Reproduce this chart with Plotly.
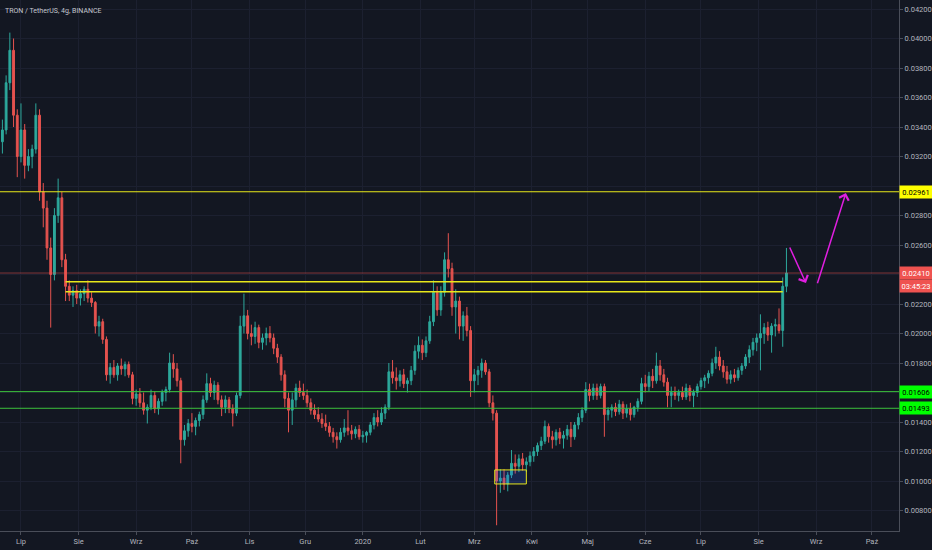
import pandas as pd
import plotly.graph_objects as go

# ---- data: 2-day candles (TRX/USDT) ----
start_date = "2019-06-21"
n_candles = 212

opens = [
    0.0330, 0.0338, 0.0370, 0.0392, 0.0348, 0.0320, 0.0338, 0.0314, 0.0320, 0.0325,
    0.0348, 0.0296, 0.0285, 0.0258, 0.0240, 0.0280, 0.0292, 0.0250, 0.0232, 0.0226,
    0.0229, 0.0224, 0.0227, 0.0230, 0.0224, 0.0221, 0.0205, 0.0208, 0.0196, 0.0172,
    0.0177, 0.0172, 0.0178, 0.0176, 0.0179, 0.0172, 0.0156, 0.0159, 0.0153, 0.0148,
    0.0150, 0.0158, 0.0149, 0.0154, 0.0160, 0.0162, 0.0180, 0.0176, 0.0168, 0.0128,
    0.0134, 0.0139, 0.0137, 0.0141, 0.0145, 0.0155, 0.0166, 0.0160, 0.0165, 0.0155,
    0.0150, 0.0155, 0.0149, 0.0146, 0.0158, 0.0205, 0.0212, 0.0200, 0.0198, 0.0204,
    0.0194, 0.0197, 0.0200, 0.0197, 0.0190, 0.0184, 0.0172, 0.0156, 0.0148, 0.0155,
    0.0163, 0.0160, 0.0158, 0.0153, 0.0148, 0.0145, 0.0142, 0.0139, 0.0137, 0.0133,
    0.0130, 0.0128, 0.0133, 0.0136, 0.0134, 0.0132, 0.0135, 0.0130, 0.0131, 0.0133,
    0.0138, 0.0143, 0.0140, 0.0146, 0.0150, 0.0174, 0.0170, 0.0168, 0.0172, 0.0166,
    0.0168, 0.0175, 0.0188, 0.0192, 0.0187, 0.0195, 0.0208, 0.0228, 0.0216, 0.0228,
    0.0250, 0.0244, 0.0218, 0.0222, 0.0205, 0.0212, 0.0202, 0.0168, 0.0172, 0.0175,
    0.0180, 0.0174, 0.0153, 0.0146, 0.0100, 0.0102, 0.0098, 0.0104, 0.0112, 0.0110,
    0.0115, 0.0111, 0.0113, 0.0117, 0.0120, 0.0124, 0.0127, 0.0137, 0.0130, 0.0128,
    0.0133, 0.0129, 0.0131, 0.0135, 0.0130, 0.0138, 0.0143, 0.0148, 0.0162, 0.0158,
    0.0163, 0.0158, 0.0164, 0.0145, 0.0148, 0.0150, 0.0147, 0.0152, 0.0146, 0.0149,
    0.0145, 0.0150, 0.0154, 0.0166, 0.0164, 0.0171, 0.0168, 0.0178, 0.0172, 0.0167,
    0.0158, 0.0160, 0.0158, 0.0160, 0.0157, 0.0163, 0.0158, 0.0160, 0.0164, 0.0168,
    0.0170, 0.0173, 0.0180, 0.0184, 0.0178, 0.0174, 0.0169, 0.0172, 0.0170, 0.0175,
    0.0178, 0.0184, 0.0189, 0.0194, 0.0197, 0.0200, 0.0204, 0.0199, 0.0205, 0.0206,
    0.0202, 0.0232,
]
highs = [
    0.0345, 0.0375, 0.0404, 0.0400, 0.0352, 0.0356, 0.0342, 0.0325, 0.0328, 0.0356,
    0.0352, 0.0302, 0.0290, 0.0265, 0.0285, 0.0305, 0.0296, 0.0254, 0.0236, 0.0232,
    0.0233, 0.0230, 0.0232, 0.0236, 0.0228, 0.0222, 0.0212, 0.0210, 0.0198, 0.0180,
    0.0182, 0.0180, 0.0183, 0.0181, 0.0181, 0.0174, 0.0162, 0.0163, 0.0160, 0.0152,
    0.0162, 0.0161, 0.0156, 0.0162, 0.0164, 0.0187, 0.0186, 0.0180, 0.0170, 0.0138,
    0.0142, 0.0146, 0.0143, 0.0147, 0.0158, 0.0173, 0.0170, 0.0168, 0.0167, 0.0158,
    0.0158, 0.0157, 0.0152, 0.0160, 0.0212, 0.0227, 0.0216, 0.0206, 0.0208, 0.0206,
    0.0200, 0.0204, 0.0205, 0.0200, 0.0193, 0.0186, 0.0175, 0.0160, 0.0160, 0.0166,
    0.0168, 0.0166, 0.0162, 0.0156, 0.0152, 0.0150, 0.0146, 0.0145, 0.0140, 0.0136,
    0.0133, 0.0136, 0.0142, 0.0148, 0.0138, 0.0137, 0.0138, 0.0134, 0.0134, 0.0140,
    0.0146, 0.0148, 0.0150, 0.0152, 0.0180, 0.0182, 0.0177, 0.0175, 0.0176, 0.0170,
    0.0178, 0.0192, 0.0198, 0.0196, 0.0198, 0.0212, 0.0236, 0.0232, 0.0232, 0.0255,
    0.0268, 0.0248, 0.0230, 0.0225, 0.0215, 0.0218, 0.0205, 0.0176, 0.0178, 0.0183,
    0.0182, 0.0176, 0.0158, 0.0148, 0.0108, 0.0108, 0.0106, 0.0121, 0.0118, 0.0118,
    0.0119, 0.0116, 0.0120, 0.0123, 0.0126, 0.0130, 0.0141, 0.0139, 0.0134, 0.0135,
    0.0136, 0.0134, 0.0138, 0.0140, 0.0140, 0.0146, 0.0150, 0.0167, 0.0166, 0.0166,
    0.0166, 0.0166, 0.0166, 0.0150, 0.0152, 0.0153, 0.0155, 0.0154, 0.0152, 0.0153,
    0.0151, 0.0156, 0.0170, 0.0172, 0.0174, 0.0176, 0.0187, 0.0182, 0.0176, 0.0170,
    0.0164, 0.0164, 0.0162, 0.0164, 0.0166, 0.0165, 0.0162, 0.0166, 0.0170, 0.0172,
    0.0175, 0.0183, 0.0191, 0.0188, 0.0182, 0.0178, 0.0175, 0.0176, 0.0177, 0.0180,
    0.0186, 0.0192, 0.0197, 0.0200, 0.0213, 0.0207, 0.0208, 0.0207, 0.0210, 0.0217,
    0.0238, 0.0258,
]
lows = [
    0.0322, 0.0335, 0.0365, 0.0340, 0.0306, 0.0316, 0.0305, 0.0310, 0.0312, 0.0322,
    0.0290, 0.0272, 0.0250, 0.0204, 0.0236, 0.0275, 0.0245, 0.0222, 0.0222, 0.0218,
    0.0220, 0.0219, 0.0222, 0.0221, 0.0218, 0.0200, 0.0198, 0.0193, 0.0168, 0.0166,
    0.0170, 0.0168, 0.0172, 0.0171, 0.0170, 0.0152, 0.0151, 0.0150, 0.0145, 0.0139,
    0.0148, 0.0146, 0.0145, 0.0151, 0.0154, 0.0160, 0.0170, 0.0164, 0.0112, 0.0124,
    0.0130, 0.0133, 0.0131, 0.0137, 0.0142, 0.0153, 0.0157, 0.0155, 0.0152, 0.0144,
    0.0146, 0.0146, 0.0137, 0.0144, 0.0156, 0.0200, 0.0196, 0.0192, 0.0193, 0.0190,
    0.0189, 0.0192, 0.0194, 0.0186, 0.0180, 0.0168, 0.0150, 0.0133, 0.0138, 0.0150,
    0.0157, 0.0155, 0.0150, 0.0145, 0.0142, 0.0140, 0.0136, 0.0134, 0.0130, 0.0126,
    0.0122, 0.0126, 0.0130, 0.0131, 0.0128, 0.0129, 0.0128, 0.0126, 0.0126, 0.0131,
    0.0135, 0.0137, 0.0138, 0.0142, 0.0148, 0.0166, 0.0162, 0.0164, 0.0163, 0.0160,
    0.0165, 0.0172, 0.0183, 0.0182, 0.0184, 0.0193, 0.0205, 0.0212, 0.0212, 0.0225,
    0.0238, 0.0212, 0.0200, 0.0196, 0.0195, 0.0198, 0.0157, 0.0160, 0.0165, 0.0170,
    0.0172, 0.0150, 0.0141, 0.0070, 0.0092, 0.0094, 0.0093, 0.0102, 0.0105, 0.0106,
    0.0107, 0.0106, 0.0110, 0.0113, 0.0117, 0.0121, 0.0125, 0.0126, 0.0122, 0.0124,
    0.0125, 0.0122, 0.0128, 0.0123, 0.0128, 0.0135, 0.0140, 0.0146, 0.0154, 0.0155,
    0.0155, 0.0156, 0.0130, 0.0141, 0.0143, 0.0144, 0.0145, 0.0142, 0.0143, 0.0141,
    0.0143, 0.0147, 0.0152, 0.0160, 0.0161, 0.0163, 0.0166, 0.0168, 0.0164, 0.0150,
    0.0150, 0.0155, 0.0154, 0.0155, 0.0155, 0.0154, 0.0150, 0.0157, 0.0162, 0.0163,
    0.0166, 0.0171, 0.0176, 0.0175, 0.0170, 0.0166, 0.0166, 0.0167, 0.0168, 0.0172,
    0.0176, 0.0180, 0.0185, 0.0188, 0.0175, 0.0193, 0.0195, 0.0187, 0.0198, 0.0200,
    0.0191, 0.0228,
]
closes = [
    0.0338, 0.0370, 0.0392, 0.0348, 0.0320, 0.0338, 0.0314, 0.0320, 0.0325, 0.0348,
    0.0296, 0.0285, 0.0258, 0.0240, 0.0280, 0.0292, 0.0250, 0.0232, 0.0226, 0.0229,
    0.0224, 0.0227, 0.0230, 0.0224, 0.0221, 0.0205, 0.0208, 0.0196, 0.0172, 0.0177,
    0.0172, 0.0178, 0.0176, 0.0179, 0.0172, 0.0156, 0.0159, 0.0153, 0.0148, 0.0150,
    0.0158, 0.0149, 0.0154, 0.0160, 0.0162, 0.0180, 0.0176, 0.0168, 0.0128, 0.0134,
    0.0139, 0.0137, 0.0141, 0.0145, 0.0155, 0.0166, 0.0160, 0.0165, 0.0155, 0.0150,
    0.0155, 0.0149, 0.0146, 0.0158, 0.0205, 0.0212, 0.0200, 0.0198, 0.0204, 0.0194,
    0.0197, 0.0200, 0.0197, 0.0190, 0.0184, 0.0172, 0.0156, 0.0148, 0.0155, 0.0163,
    0.0160, 0.0158, 0.0153, 0.0148, 0.0145, 0.0142, 0.0139, 0.0137, 0.0133, 0.0130,
    0.0128, 0.0133, 0.0136, 0.0134, 0.0132, 0.0135, 0.0130, 0.0131, 0.0133, 0.0138,
    0.0143, 0.0140, 0.0146, 0.0150, 0.0174, 0.0170, 0.0168, 0.0172, 0.0166, 0.0168,
    0.0175, 0.0188, 0.0192, 0.0187, 0.0195, 0.0208, 0.0228, 0.0216, 0.0228, 0.0250,
    0.0244, 0.0218, 0.0222, 0.0205, 0.0212, 0.0202, 0.0168, 0.0172, 0.0175, 0.0180,
    0.0174, 0.0153, 0.0146, 0.0100, 0.0102, 0.0098, 0.0104, 0.0112, 0.0110, 0.0115,
    0.0111, 0.0113, 0.0117, 0.0120, 0.0124, 0.0127, 0.0137, 0.0130, 0.0128, 0.0133,
    0.0129, 0.0131, 0.0135, 0.0130, 0.0138, 0.0143, 0.0148, 0.0162, 0.0158, 0.0163,
    0.0158, 0.0164, 0.0145, 0.0148, 0.0150, 0.0147, 0.0152, 0.0146, 0.0149, 0.0145,
    0.0150, 0.0154, 0.0166, 0.0164, 0.0171, 0.0168, 0.0178, 0.0172, 0.0167, 0.0158,
    0.0160, 0.0158, 0.0160, 0.0157, 0.0163, 0.0158, 0.0160, 0.0164, 0.0168, 0.0170,
    0.0173, 0.0180, 0.0184, 0.0178, 0.0174, 0.0169, 0.0172, 0.0170, 0.0175, 0.0178,
    0.0184, 0.0189, 0.0194, 0.0197, 0.0200, 0.0204, 0.0199, 0.0205, 0.0206, 0.0202,
    0.0232, 0.0241,
]

# drawn levels / annotations
resistance_top = 0.02961
current_price = 0.02410
support_levels = [0.01606, 0.01493]
zone_levels = [0.02351, 0.02283]
zone_start, zone_end = "2019-07-25", "2020-08-14"
box_x = ["2020-03-12", "2020-03-29"]
box_y = [0.00980, 0.01075]
arrow_down = {"tail": ("2020-08-17 10:00", 0.02593), "tip": ("2020-08-26 12:00", 0.02342)}
arrow_up = {"tail": ("2020-09-01 10:00", 0.02330), "tip": ("2020-09-17 00:00", 0.02953)}

# price-axis ticks (labels hidden under the price tags are left blank)
price_ticks = [0.008, 0.010, 0.012, 0.014, 0.016, 0.018, 0.020, 0.022, 0.024,
               0.026, 0.028, 0.030, 0.032, 0.034, 0.036, 0.038, 0.040, 0.042]
price_tick_text = ["0.00800", "0.01000", "0.01200", "0.01400", "", "0.01800",
                   "0.02000", "0.02200", "", "0.02600", "0.02800", "", "0.03200",
                   "0.03400", "0.03600", "0.03800", "0.04000", "0.04200"]

month_ticks = pd.date_range("2019-07-01", "2020-10-01", freq="MS")
month_labels = ["Lip", "Sie", "Wrz", "Paź", "Lis", "Gru", "2020", "Lut", "Mrz",
                "Kwi", "Maj", "Cze", "Lip", "Sie", "Wrz", "Paź"]

dates = pd.date_range(start_date, periods=n_candles, freq="2D")

BG = "#131722"
GRID = "#1c2030"
TXT = "#b2b5be"
YEL = "#e8e81a"
GRN = "#3cc23c"
MAG = "#e01ee0"
FONT = "Roboto, sans-serif"

fig = go.Figure()
fig.add_trace(go.Candlestick(
    x=dates, open=opens, high=highs, low=lows, close=closes,
    increasing=dict(line=dict(color="#2da89c", width=1), fillcolor="#2da89c"),
    decreasing=dict(line=dict(color="#e5534f", width=1), fillcolor="#e5534f"),
    showlegend=False, hoverinfo="skip",
))

shapes = []
shapes.append(dict(type="line", xref="paper", x0=0, x1=1, yref="y",
                   y0=current_price, y1=current_price,
                   line=dict(color="rgba(239,83,80,0.5)", width=1)))
shapes.append(dict(type="line", xref="paper", x0=0, x1=1, yref="y",
                   y0=resistance_top, y1=resistance_top, line=dict(color=YEL, width=1)))
for lv in support_levels:
    shapes.append(dict(type="line", xref="paper", x0=0, x1=1, yref="y",
                       y0=lv, y1=lv, line=dict(color=GRN, width=1)))
for lv in zone_levels:
    shapes.append(dict(type="line", xref="x", x0=zone_start, x1=zone_end, yref="y",
                       y0=lv, y1=lv, line=dict(color=YEL, width=1.6)))
shapes.append(dict(type="rect", xref="x", yref="y", x0=box_x[0], x1=box_x[1],
                   y0=box_y[0], y1=box_y[1], fillcolor="rgba(41,98,255,0.2)",
                   line=dict(color=YEL, width=1)))

annotations = [
    dict(xref="paper", yref="paper", x=0, y=1, xanchor="left", yanchor="top",
         xshift=3, yshift=-5, showarrow=False, text="TRON / TetherUS, 4g, BINANCE",
         font=dict(family=FONT, size=7, color="#c3c6ce")),
]


def price_tag(val, text, bg, fg, yshift=0):
    return dict(xref="paper", yref="y", x=1, y=val, xanchor="left", yanchor="middle",
                xshift=0, yshift=yshift, showarrow=False, text=text, bgcolor=bg,
                font=dict(family=FONT, size=7.5, color=fg), width=30, height=10,
                borderpad=1, align="center")


annotations.append(price_tag(resistance_top, f"{resistance_top:.5f}", "#ffff00", "#000000"))
annotations.append(price_tag(current_price, f"{current_price:.5f}", "#ef5350", "#ffffff"))
annotations.append(price_tag(current_price, "03:45:23", "#ef5350", "#ffffff", yshift=-13))
for lv in support_levels:
    annotations.append(price_tag(lv, f"{lv:.5f}", "#00ff00", "#000000"))

for arr in (arrow_down, arrow_up):
    annotations.append(dict(
        xref="x", yref="y", axref="x", ayref="y",
        x=arr["tip"][0], y=arr["tip"][1], ax=arr["tail"][0], ay=arr["tail"][1],
        showarrow=True, arrowhead=4, arrowsize=1.3, arrowwidth=1.5,
        arrowcolor=MAG, text="", standoff=0, startstandoff=0,
    ))

fig.update_layout(
    width=932, height=550,
    margin=dict(l=0, r=33, t=0, b=19),
    paper_bgcolor=BG, plot_bgcolor=BG,
    shapes=shapes, annotations=annotations,
    showlegend=False,
    xaxis=dict(
        type="date", range=["2019-06-19 17:00", "2020-10-15 14:00"],
        rangeslider=dict(visible=False),
        tickvals=month_ticks, ticktext=month_labels,
        ticks="outside", ticklen=3, tickcolor="#4a4e59",
        tickfont=dict(family=FONT, size=7.5, color=TXT),
        showgrid=True, gridcolor=GRID, gridwidth=1,
        showline=True, linecolor="#4a4e59", linewidth=1,
        zeroline=False, fixedrange=True,
    ),
    yaxis=dict(
        side="right", range=[0.00661, 0.04261],
        tickvals=price_ticks, ticktext=price_tick_text,
        ticks="outside", ticklen=3, tickcolor="#4a4e59",
        tickfont=dict(family=FONT, size=7.5, color=TXT),
        showgrid=True, gridcolor=GRID, gridwidth=1,
        showline=True, linecolor="#4a4e59", linewidth=1,
        zeroline=False, fixedrange=True,
    ),
)

fig.write_html(
    "out.html",
    config={"displayModeBar": False},
    post_script="document.body.style.margin='0';document.body.style.overflow='hidden';"
                "document.body.style.background='" + BG + "';",
)
